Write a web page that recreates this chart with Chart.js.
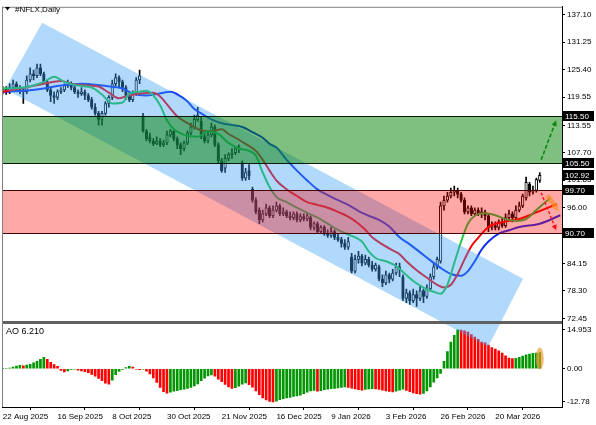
<!DOCTYPE html>
<html>
<head>
<meta charset="utf-8">
<script src="https://cdn.jsdelivr.net/npm/chart.js@4.4.1/dist/chart.umd.min.js"></script>
<style>
  html, body { margin: 0; padding: 0; background: #fff; }
</style>
</head>
<body>
<canvas id="nflx" width="596" height="425"></canvas>
<script>
// tick labels
const dateLabels = ['22 Aug 2025', '16 Sep 2025', '8 Oct 2025', '30 Oct 2025', '21 Nov 2025',
  '16 Dec 2025', '9 Jan 2026', '3 Feb 2026', '26 Feb 2026', '20 Mar 2026'];
const priceTicks = [137.10, 131.25, 125.40, 119.55, 113.55, 107.70, 101.85, 96.00, 90.15, 84.15, 78.30, 72.45];
const aoTicks = [14.953, 0, -12.78];
const aoTickText = ['14.953', '0.00', '-12.78'];

// daily candles, one entry per bar
const opens = [
  120.7,121.4,120.7,121.6,122.4,121.6,121.1,120.7,123.2,124.5,
  124.1,125.8,124.5,122.8,121.1,119.9,119.5,120.7,121.1,122.0,
  122.4,121.6,120.7,120.3,120.7,119.9,119.0,117.4,116.1,114.8,
  116.1,118.2,119.5,122.4,123.7,122.8,121.6,119.9,119.0,120.3,
  123.2,115.5,112.3,111.1,110.2,109.6,110.2,109.4,109.8,111.5,
  112.3,110.7,109.4,108.6,109.8,111.9,113.2,114.8,114.4,111.1,
  110.2,111.5,113.2,109.4,106.0,104.4,106.5,107.3,107.7,108.6,
  105.6,102.3,103.9,99.9,97.6,95.5,93.4,94.7,96.0,94.3,
  95.5,96.4,94.7,95.1,94.3,93.9,94.7,93.4,94.1,93.6,
  93.9,91.8,92.6,90.9,91.8,90.5,90.1,90.9,89.7,89.2,
  88.4,87.6,85.5,82.5,85.0,85.7,84.2,85.0,83.8,82.9,
  83.4,80.8,80.0,81.7,80.8,82.1,83.4,81.3,76.7,77.9,
  76.2,77.5,76.7,78.3,77.1,78.7,81.3,83.4,84.6,96.4,
  97.6,98.5,99.3,99.7,98.9,97.6,95.1,96.0,94.7,95.5,
  94.7,95.1,94.3,91.8,92.2,91.8,93.0,92.2,93.9,94.7,
  93.9,95.5,96.4,98.1,101.0,99.3,99.7,101.8
];
const highs = [
  121.8,121.8,122.4,123.2,122.8,122.0,121.6,124.1,125.8,125.3,
  126.6,126.6,124.9,123.2,121.6,120.7,121.1,121.6,122.4,123.2,
  122.8,122.0,121.1,121.6,121.1,120.3,119.5,118.2,116.5,116.5,
  118.6,119.9,123.2,124.5,124.1,123.2,122.0,120.7,120.9,123.7,
  125.3,116.1,112.7,111.9,110.7,111.1,110.7,110.4,112.3,112.7,
  112.7,111.1,109.8,110.2,112.3,114.0,115.7,117.4,115.3,111.9,
  112.3,114.0,113.6,109.8,106.5,107.3,107.7,108.6,109.0,109.4,
  106.0,104.4,105.2,100.4,98.1,96.0,95.5,96.8,96.4,96.4,
  97.2,96.8,96.0,95.5,95.1,95.1,95.1,94.7,94.7,94.9,
  94.3,93.0,93.0,92.2,92.2,91.3,91.8,91.3,90.5,89.7,
  89.2,89.7,86.3,85.9,86.7,86.1,85.9,85.5,84.6,84.2,
  83.8,81.7,82.5,82.1,82.9,84.2,84.2,81.7,78.7,78.3,
  78.7,78.3,79.2,78.7,79.6,81.9,84.2,85.5,97.2,98.5,
  99.3,100.2,100.6,100.2,99.3,98.1,96.4,96.4,96.0,96.0,
  96.0,95.5,94.7,93.0,93.0,93.4,93.9,94.7,95.5,95.1,
  96.4,97.2,98.9,102.5,101.4,100.6,102.3,103.5
];
const lows = [
  120.3,120.1,120.3,121.1,120.9,120.3,118.2,120.3,122.8,123.2,
  123.7,124.1,122.4,120.7,118.6,118.2,119.0,120.3,120.7,121.6,
  121.1,120.3,119.5,119.9,119.0,118.6,117.0,115.7,113.6,113.6,
  115.7,117.4,119.0,122.0,121.6,120.7,119.0,118.6,118.6,119.9,
  122.4,112.1,110.2,109.8,109.2,109.4,109.0,109.0,109.4,111.1,
  110.2,108.6,107.3,108.1,109.4,111.5,112.7,114.4,110.7,109.8,
  109.8,111.1,109.0,105.6,103.5,103.5,106.0,106.5,107.3,107.7,
  101.8,101.8,102.0,97.2,94.7,92.6,93.0,94.3,93.9,93.9,
  95.1,94.3,94.3,93.9,93.4,93.4,93.0,93.0,93.2,93.2,
  91.3,91.3,90.5,90.5,90.1,89.7,89.7,89.2,88.8,87.6,
  87.1,87.1,82.1,82.1,84.2,83.6,83.8,83.4,82.5,82.5,
  80.4,79.2,79.6,80.0,80.4,81.7,81.3,76.2,75.8,75.4,
  75.8,75.0,76.2,75.8,76.7,78.3,80.8,82.9,84.2,95.5,
  97.2,98.1,98.5,98.1,97.2,94.7,94.7,94.3,94.3,94.3,
  93.9,93.4,90.9,91.3,91.3,91.3,91.8,91.8,93.4,93.0,
  93.4,95.1,96.0,97.6,98.5,98.9,99.3,101.4
];
const closes = [
  121.4,120.7,121.6,122.4,121.6,121.1,120.7,123.2,124.5,124.1,
  125.8,124.5,122.8,121.1,119.9,119.5,120.7,121.1,122.0,122.4,
  121.6,120.7,120.3,120.7,119.9,119.0,117.4,116.1,114.8,116.1,
  118.2,119.5,122.4,123.7,122.8,121.6,119.9,119.0,120.3,123.2,
  124.1,112.3,110.7,110.2,109.6,110.2,109.4,109.8,111.5,112.3,
  110.7,109.4,108.6,109.8,111.9,113.2,114.8,115.7,111.1,110.2,
  111.5,113.2,109.4,106.0,103.9,106.5,107.3,107.7,108.6,109.0,
  102.3,103.5,102.7,97.6,95.1,93.4,94.7,96.0,94.3,95.5,
  96.4,94.7,95.1,94.3,93.9,94.7,93.4,94.1,93.6,94.3,
  91.8,92.6,90.9,91.8,90.5,90.1,90.9,89.7,89.2,88.4,
  87.6,88.8,82.5,85.0,85.7,84.2,85.0,83.8,82.9,83.8,
  80.8,80.0,81.7,80.8,82.1,83.4,82.9,76.7,77.9,76.2,
  77.5,76.7,78.3,77.1,78.7,81.3,83.4,85.0,96.4,97.6,
  98.5,99.3,99.7,98.9,97.6,95.1,96.0,94.7,95.5,94.7,
  95.1,94.3,91.8,92.2,91.8,93.0,92.2,93.9,94.7,93.9,
  95.5,96.4,98.5,101.4,99.3,99.7,102.0,102.92
];

// Awesome Oscillator, one value per bar
const ao = [
  0.1,0.2,0.3,0.6,1.0,1.3,1.1,1.4,1.7,2.3,
  2.9,3.6,4.4,3.6,2.5,1.6,0.9,-0.6,-1.2,-0.8,
  -0.3,-0.2,-0.5,-0.8,-1.1,-1.5,-2.2,-2.9,-3.7,-4.6,
  -5.6,-5.9,-4.4,-2.3,-1.0,-0.3,0.5,0.9,0.6,-0.2,
  -0.4,-0.2,-0.9,-2.0,-3.5,-5.3,-7.2,-8.8,-9.4,-9.0,
  -8.6,-8.4,-8.1,-7.9,-7.6,-7.2,-6.6,-5.8,-4.6,-3.6,
  -2.8,-2.4,-2.9,-4.0,-5.0,-6.0,-7.0,-7.6,-7.3,-6.7,
  -5.9,-5.5,-6.1,-7.1,-8.5,-10.0,-11.2,-12.0,-12.6,-12.78,
  -12.5,-11.9,-11.5,-11.2,-11.0,-10.7,-10.5,-10.2,-9.6,-9.0,
  -8.5,-8.3,-8.6,-8.4,-8.1,-7.9,-7.7,-7.6,-7.4,-7.2,
  -7.0,-7.2,-7.5,-7.8,-8.1,-8.2,-8.0,-7.8,-7.7,-7.8,
  -8.0,-8.2,-8.5,-8.7,-8.9,-8.6,-8.2,-7.9,-8.3,-8.8,
  -9.3,-9.6,-9.8,-9.5,-8.5,-7.0,-5.2,-3.5,-1.8,2.9,
  6.6,10.3,12.9,14.953,14.9,14.6,14.1,13.2,12.2,11.3,
  10.3,10.0,9.1,8.2,7.6,6.9,6.0,5.0,4.1,3.9,
  4.0,4.4,4.9,5.4,5.7,5.9,6.0,6.21
];

// alligator lines (shifted forward past the last bar): [bar, price]
const fastLine = [[0,121.4],[6,121.6],[12,122.8],[15,123.9],[18,122.8],[22,122.0],[26,121.6],[29,120.1],
  [32,118.2],[35,118.4],[37,120.3],[40,120.7],[42,120.9],[44,119.9],[46,117.8],[48,114.6],[50,112.7],
  [53,111.5],[57,111.1],[60,112.3],[63,111.7],[66,109.8],[69,108.6],[72,108.1],[74,107.1],[76,103.5],
  [78,100.4],[80,98.3],[83,97.2],[86,96.0],[89,94.9],[92,93.9],[95,92.6],[98,91.3],[101,90.3],[103,89.7],
  [105,88.8],[107,86.7],[109,85.3],[112,84.6],[115,83.6],[117,82.3],[120,80.4],[123,79.0],[126,78.1],
  [128,77.7],[130,79.6],[132,84.2],[134,88.8],[136,92.6],[138,94.3],[141,94.8],[144,94.4],[147,93.6],
  [150,93.2],[153,93.6],[156,95.5],[158,96.8],[160,98.0]];
const midLine = [[0,120.7],[8,121.8],[12,122.4],[17,123.0],[20,122.4],[25,122.0],[28,121.8],[31,120.5],
  [34,119.3],[36,119.7],[40,120.3],[44,120.5],[46,119.7],[48,118.0],[51,115.5],[54,114.0],[58,112.5],
  [61,112.3],[64,112.7],[66,111.7],[68,110.9],[71,109.6],[74,108.1],[76,106.2],[78,103.9],[80,101.8],
  [83,99.9],[86,98.5],[89,97.2],[92,96.6],[95,96.0],[98,95.1],[101,94.1],[104,92.6],[106,91.3],[108,89.7],
  [111,88.2],[114,86.9],[116,86.1],[118,84.6],[121,82.7],[124,81.1],[127,79.6],[129,79.0],[131,79.6],
  [133,81.9],[135,85.0],[137,87.8],[139,89.6],[142,91.9],[146,92.9],[151,93.6],[156,95.0],[162,96.8]];
const slowLine = [[0,120.7],[6,120.9],[12,121.4],[17,122.0],[23,122.4],[29,122.0],[35,121.4],[38,120.3],
  [42,119.9],[47,120.5],[49,120.7],[52,119.7],[54,118.6],[56,117.0],[58,116.1],[61,114.8],[64,114.0],
  [67,113.6],[70,113.2],[73,112.1],[76,110.9],[78,109.6],[80,108.8],[83,106.2],[86,103.9],[89,101.8],
  [92,99.9],[95,98.7],[98,97.6],[101,96.6],[104,95.3],[107,94.3],[110,93.4],[113,92.0],[116,89.7],
  [119,88.2],[122,86.5],[125,84.8],[128,83.2],[131,81.9],[134,81.5],[136,82.5],[138,84.6],[140,87.1],
  [142,88.8],[145,90.5],[148,91.2],[151,91.9],[157,92.6],[163,94.4]];

// drawn objects, in [bar, price]
const greenZone = [105.5, 115.5];
const redZone = [90.7, 99.7];
const channel = [[11.5,135.4],[152.1,80.9],[141.9,66.4],[0.6,121.3]];
const badges = [115.50, 105.50, 102.92, 99.70, 90.70];
const upArrow = [[157.4,106.2],[161.8,114.6]];
const downArrow = [[157.4,99.2],[161.8,91.2]];
const orangeArrow = [[159.2,98.6],[162.6,95.2]];

Chart.defaults.font.family = "'Liberation Sans', Arial, sans-serif";
Chart.defaults.font.size = 8;
Chart.defaults.color = '#000';

const bars = opens.map((_, i) => i);
const toPts = arr => arr.map(([x, y]) => ({x, y}));

function arrow(ctx, x1, y1, x2, y2, color, width, dash, head) {
  const a = Math.atan2(y2 - y1, x2 - x1);
  ctx.save();
  ctx.strokeStyle = color;
  ctx.fillStyle = color;
  ctx.lineWidth = width;
  ctx.setLineDash(dash);
  ctx.beginPath();
  ctx.moveTo(x1, y1);
  ctx.lineTo(x2 - Math.cos(a) * head * 0.7, y2 - Math.sin(a) * head * 0.7);
  ctx.stroke();
  ctx.setLineDash([]);
  ctx.beginPath();
  ctx.moveTo(x2, y2);
  ctx.lineTo(x2 - head * Math.cos(a - 0.45), y2 - head * Math.sin(a - 0.45));
  ctx.lineTo(x2 - head * Math.cos(a + 0.45), y2 - head * Math.sin(a + 0.45));
  ctx.closePath();
  ctx.fill();
  ctx.restore();
}

const overlay = {
  id: 'overlay',
  afterDatasetsDraw(chart) {
    const {ctx, scales: {x, y}} = chart;
    ctx.save();
    // channel
    ctx.beginPath();
    channel.forEach(([b, p], i) => {
      if (i) ctx.lineTo(x.getPixelForValue(b), y.getPixelForValue(p));
      else ctx.moveTo(x.getPixelForValue(b), y.getPixelForValue(p));
    });
    ctx.closePath();
    ctx.fillStyle = 'rgba(60,160,245,0.4)';
    ctx.fill();
    // zones
    const zone = (lv, fill, line) => {
      const t = Math.round(y.getPixelForValue(lv[1])) + 0.5;
      const b = Math.round(y.getPixelForValue(lv[0])) + 0.5;
      ctx.fillStyle = fill;
      ctx.fillRect(x.left, t, x.right - x.left, b - t);
      ctx.strokeStyle = line;
      ctx.lineWidth = 1;
      ctx.beginPath();
      ctx.moveTo(x.left, t); ctx.lineTo(x.right, t);
      ctx.moveTo(x.left, b); ctx.lineTo(x.right, b);
      ctx.stroke();
    };
    zone(greenZone, 'rgba(0,128,0,0.5)', '#0a1a0a');
    zone(redZone, 'rgba(255,0,0,0.34)', '#4a0000');
    ctx.restore();
  },
  afterDraw(chart) {
    const {ctx, scales: {x, y, ao: a}} = chart;
    ctx.save();
    // frames
    ctx.fillStyle = '#606060';
    ctx.fillRect(x.left, y.bottom - 1.5, x.right - x.left, 3);
    ctx.strokeStyle = '#808080';
    ctx.lineWidth = 1;
    ctx.beginPath();
    ctx.moveTo(x.left + 0.5, y.top); ctx.lineTo(x.left + 0.5, a.bottom);
    ctx.moveTo(x.left, y.top + 0.5); ctx.lineTo(x.right, y.top + 0.5);
    ctx.stroke();

    // arrows
    const P = ([b, p]) => [x.getPixelForValue(b), y.getPixelForValue(p)];
    const u0 = P(upArrow[0]), u1 = P(upArrow[1]);
    arrow(ctx, u0[0], u0[1], u1[0], u1[1], '#0a8a0a', 1.6, [4, 2], 6);
    const o0 = P(orangeArrow[0]), o1 = P(orangeArrow[1]);
    arrow(ctx, o0[0], o0[1], o1[0], o1[1], 'rgba(250,140,30,0.65)', 5, [], 9);
    const d0 = P(downArrow[0]), d1 = P(downArrow[1]);
    arrow(ctx, d0[0], d0[1], d1[0], d1[1], '#ff1010', 1.4, [3, 2], 6);

    // AO highlight around the last bar
    const last = ao.length - 1;
    ctx.fillStyle = 'rgba(235,150,40,0.65)';
    ctx.beginPath();
    ctx.ellipse(x.getPixelForValue(last), a.getPixelForValue(ao[last] / 2 + 0.8), 4, 11, 0, 0, Math.PI * 2);
    ctx.fill();

    // price badges
    ctx.font = "8px 'Liberation Sans', Arial, sans-serif";
    ctx.textBaseline = 'middle';
    badges.forEach(v => {
      const yy = Math.round(y.getPixelForValue(v));
      ctx.fillStyle = '#000';
      ctx.fillRect(x.right + 1, yy - 5, 31, 10);
      ctx.fillStyle = '#fff';
      ctx.fillText(v.toFixed(2), x.right + 3, yy + 0.5);
    });

    // window captions
    ctx.fillStyle = '#000';
    ctx.beginPath();
    ctx.moveTo(5, 7); ctx.lineTo(10, 7); ctx.lineTo(7.5, 10.5); ctx.closePath();
    ctx.fill();
    ctx.textBaseline = 'alphabetic';
    ctx.fillText('#NFLX,Daily', 15, 12);
    ctx.font = "9px 'Liberation Sans', Arial, sans-serif";
    ctx.fillText('AO ' + ao[last].toFixed(3), 6, a.top + 11);
    ctx.restore();
  }
};

new Chart(document.getElementById('nflx'), {
  type: 'bar',
  data: {
    datasets: [
      {
        type: 'line', data: toPts(fastLine), yAxisID: 'y', borderColor: '#22c840', borderWidth: 2,
        pointRadius: 0, cubicInterpolationMode: 'monotone', order: 1
      },
      {
        type: 'line', data: toPts(midLine), yAxisID: 'y', borderColor: '#ff0000', borderWidth: 2,
        pointRadius: 0, cubicInterpolationMode: 'monotone', order: 1
      },
      {
        type: 'line', data: toPts(slowLine), yAxisID: 'y', borderColor: '#1030f0', borderWidth: 2,
        pointRadius: 0, cubicInterpolationMode: 'monotone', order: 1
      },
      {
        data: bars.map(i => ({x: i, y: [opens[i], closes[i]]})), yAxisID: 'y',
        backgroundColor: c => closes[c.dataIndex] >= opens[c.dataIndex] ? '#ffffff' : '#000000',
        borderColor: '#000', borderWidth: 1, borderSkipped: false, barThickness: 2.6, minBarLength: 1,
        grouped: false, order: 2
      },
      {
        data: bars.map(i => ({x: i, y: [lows[i], highs[i]]})), yAxisID: 'y',
        backgroundColor: '#000', barThickness: 1, grouped: false, order: 3
      },
      {
        data: bars.map(i => ({x: i, y: ao[i]})), yAxisID: 'ao',
        backgroundColor: c => (c.dataIndex > 0 && ao[c.dataIndex] < ao[c.dataIndex - 1]) ? '#ff0000' : '#009600',
        barThickness: 2, grouped: false, order: 4
      }
    ]
  },
  options: {
    responsive: false,
    animation: false,
    events: [],
    devicePixelRatio: 1,
    layout: { padding: { left: 2, top: 2, right: 0, bottom: 0 } },
    plugins: { legend: { display: false }, tooltip: { enabled: false } },
    scales: {
      x: {
        type: 'linear', min: -0.234, max: 163.5, offset: false,
        afterBuildTicks: s => { s.ticks = dateLabels.map((_, k) => ({ value: k * 16 })); },
        afterFit: s => { s.height = 18; },
        ticks: { autoSkip: false, maxRotation: 0, align: 'start', padding: 2, callback: v => dateLabels[v / 16] || '' },
        grid: { drawOnChartArea: false, tickLength: 3, color: '#000' },
        border: { color: '#000' }
      },
      y: {
        type: 'linear', position: 'right', stack: 'win', stackWeight: 319.5,
        min: 71.56, max: 138.78, offset: false, beginAtZero: false,
        afterBuildTicks: s => { s.ticks = priceTicks.map(v => ({ value: v })); },
        afterFit: s => { s.width = 34; },
        ticks: { autoSkip: false, padding: 2, callback: v => v.toFixed(2) },
        grid: { drawOnChartArea: false, tickLength: 3, color: '#000' },
        border: { color: '#000' }
      },
      ao: {
        type: 'linear', position: 'right', stack: 'win', stackWeight: 85.5,
        min: -14.73, max: 17.81, offset: false, beginAtZero: false,
        afterBuildTicks: s => { s.ticks = aoTicks.map(v => ({ value: v })); },
        afterFit: s => { s.width = 34; },
        ticks: { autoSkip: false, padding: 2, callback: (v, i) => aoTickText[i] },
        grid: { drawOnChartArea: false, tickLength: 3, color: '#000' },
        border: { color: '#000' }
      }
    }
  },
  plugins: [overlay]
});
</script>
</body>
</html>
